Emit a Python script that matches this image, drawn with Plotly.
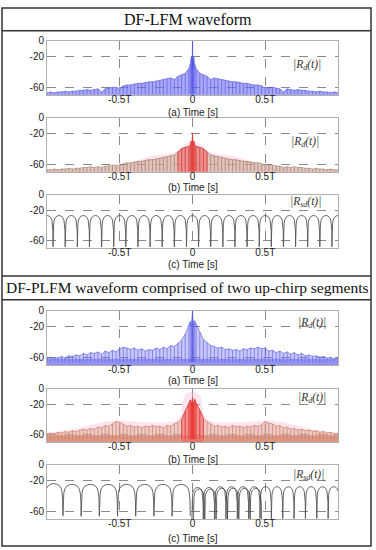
import plotly.graph_objects as go

W, H = 376, 550

# ---------------- data (time in units of T, magnitude in dB) ----------------
t_dense = [-1.0, -0.975, -0.95, -0.925, -0.9, -0.875, -0.85, -0.825, -0.8, -0.775,
           -0.75, -0.725, -0.7, -0.675, -0.65, -0.625, -0.6, -0.575, -0.55, -0.525,
           -0.5, -0.475, -0.45, -0.425, -0.4, -0.375, -0.35, -0.325, -0.3, -0.275,
           -0.25, -0.225, -0.2, -0.175, -0.15, -0.125, -0.1, -0.075, -0.05, -0.025,
           -0.015, -0.008, -0.003, 0.0, 0.003, 0.008, 0.015,
           0.025, 0.05, 0.075, 0.1, 0.125, 0.15, 0.175, 0.2, 0.225, 0.25,
           0.275, 0.3, 0.325, 0.35, 0.375, 0.4, 0.425, 0.45, 0.475, 0.5,
           0.525, 0.55, 0.575, 0.6, 0.625, 0.65, 0.675, 0.7, 0.725, 0.75,
           0.775, 0.8, 0.825, 0.85, 0.875, 0.9, 0.925, 0.95, 0.975, 1.0]

# (a) DF-LFM |R_d(t)|
peaks_a = [-67, -66, -67, -66, -66, -65, -66, -65, -65, -64,
           -64, -63, -64, -63, -62, -66, -62, -61, -60, -60,
           -62, -58, -57, -57, -56, -55, -55, -54, -53, -53,
           -52, -51, -50, -49, -48, -50, -46, -44, -42, -36,
           -30, -21, -38, 0, -38, -21, -30,
           -36, -42, -44, -46, -50, -48, -49, -50, -51, -52,
           -53, -53, -54, -55, -55, -56, -57, -57, -58, -62,
           -60, -60, -61, -62, -66, -62, -63, -64, -63, -64,
           -64, -65, -65, -66, -65, -66, -66, -67, -66, -67]
floor_a = -69

# (b) DF-LFM |R_d(t)| (second look)
peaks_b = [-67, -67, -66, -67, -66, -66, -65, -66, -65, -65,
           -64, -64, -63, -64, -63, -64, -62, -62, -61, -61,
           -62, -59, -58, -58, -57, -56, -56, -55, -54, -54,
           -53, -52, -51, -50, -49, -48, -44, -40, -38, -37,
           -35, -30, -36, -20, -36, -30, -35,
           -37, -38, -40, -44, -48, -49, -50, -51, -52, -53,
           -54, -54, -55, -56, -56, -57, -58, -58, -59, -62,
           -61, -61, -62, -62, -64, -63, -64, -63, -64, -64,
           -65, -65, -66, -65, -66, -66, -67, -66, -67, -67]
floor_b = -69
red_span_b = 0.1

# (a) DF-PLFM |R_d(t)|
peaks_d = [-61, -60, -62, -60, -59, -61, -58, -59, -57, -58,
           -55, -57, -54, -55, -53, -56, -52, -54, -51, -53,
           -49, -47, -48, -50, -48, -51, -49, -52, -50, -51,
           -48, -50, -47, -49, -45, -46, -42, -38, -30, -18,
           -14, -20, -12, 0, -12, -19, -13,
           -17, -28, -37, -41, -45, -46, -48, -47, -50, -49,
           -51, -50, -52, -49, -50, -48, -49, -47, -49, -48,
           -52, -51, -54, -52, -55, -53, -56, -54, -57, -55,
           -58, -57, -59, -58, -60, -59, -61, -60, -62, -61]
floor_d = -66
band_d = -62

# (b) DF-PLFM |R_d(t)|
peaks_e = [-59, -58, -59, -57, -58, -56, -57, -55, -56, -54,
           -53, -54, -52, -53, -50, -51, -48, -49, -46, -43,
           -44, -47, -49, -48, -50, -49, -51, -49, -50, -48,
           -50, -49, -51, -48, -49, -46, -44, -40, -30, -20,
           -15, -22, -18, -12, -18, -21, -14,
           -19, -28, -39, -43, -46, -49, -48, -50, -49, -51,
           -48, -50, -49, -51, -49, -50, -48, -49, -47, -43,
           -45, -46, -49, -48, -51, -50, -53, -52, -54, -53,
           -55, -54, -56, -55, -57, -56, -58, -57, -59, -58]
floor_e = -66
band_e = -61
red_span_e = 0.075

# arch (lobe) profile, read from the |R_sd| panels
arch_u = [-1.0, -0.97, -0.9, -0.8, -0.6, -0.3, 0.0, 0.3, 0.6, 0.8, 0.9, 0.97, 1.0]
arch_drop = [-41, -20, -11, -6, -2.5, -0.6, 0, -0.6, -2.5, -6, -11, -20, -41]

# (c) DF-LFM |R_sd(t)|
arch_c_centers = [-1.0, -0.917, -0.833, -0.75, -0.667, -0.583, -0.5, -0.417, -0.333,
                  -0.25, -0.167, -0.083, 0.0, 0.083, 0.167, 0.25, 0.333, 0.417,
                  0.5, 0.583, 0.667, 0.75, 0.833, 0.917, 1.0]
arch_c_peaks = [-27, -27, -27, -27, -27, -27, -27, -27, -27, -27, -27, -27, -27,
                -27, -27, -27, -27, -27, -27, -27, -27, -27, -27, -27, -27]
arch_c_half = 0.0417

# (c) DF-PLFM |R_sd(t)|
arch_f1_centers = [-0.953, -0.828, -0.703, -0.578, -0.453, -0.328, -0.203, -0.078]
arch_f1_peaks = [-24, -25, -25, -25, -25, -25, -25, -25]
arch_f1_half = 0.0625
arch_f2_centers = [0.035, 0.113, 0.191, 0.269, 0.347, 0.425, 0.503,
                   0.581, 0.659, 0.737, 0.815, 0.893, 0.971]
arch_f2_peaks = [-29, -29, -28, -28, -28, -28, -28, -28, -28, -28, -28, -28, -28]
arch_f2_half = 0.039
arch_f3_centers = [0.045, 0.123, 0.201, 0.279, 0.357, 0.435]
arch_f3_peaks = [-31, -31, -30, -30, -30, -30]
arch_f3_half = 0.039

# pink glow behind the (b) panels
haze_b_t = [-1.0, -0.5, -0.3, -0.12, -0.05, 0.0, 0.05, 0.12, 0.3, 0.5, 1.0]
haze_b_top = [-68, -62, -50, -44, -34, -30, -34, -44, -50, -62, -68]
haze_e_t = [-1.0, -0.8, -0.55, -0.3, -0.1, -0.05, 0.0, 0.05, 0.1, 0.3, 0.55, 0.8, 1.0]
haze_e_top = [-58, -52, -42, -44, -40, -8, -4, -8, -40, -44, -42, -52, -58]

x_ticks = [-0.5, 0, 0.5]
x_tick_text = ["-0.5T", "0", "0.5T"]
y_ticks = [0, -20, -60]
y_tick_text = ["0", "-20", "-60"]
y_range = [-70, 0]

# ---------------- layout helpers ----------------
PL, PR = 47, 338
panels_px = [(35, 90), (113, 168), (191, 245), (308, 363), (387, 441), (464, 519)]
xlabels = ["(a) Time [s]", "(b) Time [s]", "(c) Time [s]",
           "(a) Time [s]", "(b) Time [s]", "(c) Time [s]"]
xlabel_y = [108, 184, 261, 379, 458, 538]
rlabels = ["|R<sub>d</sub>(t)|", "|R<sub>d</sub>(t)|", "|R<sub>sd</sub>(t)|",
           "|R<sub>d</sub>(t)|", "|R<sub>d</sub>(t)|", "|R<sub>sd</sub>(t)|"]
rlabel_xy = [(307, 60), (305, 138), (305, 198), (312, 320), (312, 396), (308, 474)]

fig = go.Figure()


def axn(i):
    return ("x" if i == 1 else f"x{i}"), ("y" if i == 1 else f"y{i}")


def add_dense(i, peaks, floor, fillcol, linecol, stemcol, band=None, bandcol=None,
              red_span=None, redcol=None, redfill=None):
    xa, ya = axn(i)
    fig.add_trace(go.Scatter(x=[t_dense[0], t_dense[-1]], y=[y_range[0], y_range[0]],
                             mode="lines", line=dict(width=0, color=fillcol),
                             xaxis=xa, yaxis=ya, showlegend=False, hoverinfo="skip"))
    fig.add_trace(go.Scatter(x=t_dense, y=peaks, mode="lines", fill="tonexty",
                             fillcolor=fillcol, line=dict(width=0.6, color=linecol),
                             xaxis=xa, yaxis=ya, showlegend=False, hoverinfo="skip"))
    if band is not None:
        fig.add_trace(go.Scatter(x=[t_dense[0], t_dense[-1]], y=[y_range[0], y_range[0]],
                                 mode="lines", line=dict(width=0), xaxis=xa, yaxis=ya,
                                 showlegend=False, hoverinfo="skip"))
        fig.add_trace(go.Scatter(x=[t_dense[0], t_dense[-1]], y=[band, band], mode="lines",
                                 fill="tonexty", fillcolor=bandcol, line=dict(width=0),
                                 xaxis=xa, yaxis=ya, showlegend=False, hoverinfo="skip"))
    sx, sy = [], []
    for t, p in zip(t_dense, peaks):
        sx += [t, t, None]
        sy += [floor, p, None]
    fig.add_trace(go.Scatter(x=sx, y=sy, mode="lines", line=dict(width=0.8, color=stemcol),
                             xaxis=xa, yaxis=ya, showlegend=False, hoverinfo="skip"))
    if red_span is not None:
        rx = [t for t in t_dense if abs(t) <= red_span]
        ry = [p for t, p in zip(t_dense, peaks) if abs(t) <= red_span]
        fig.add_trace(go.Scatter(x=[rx[0], rx[-1]], y=[y_range[0], y_range[0]], mode="lines",
                                 line=dict(width=0), xaxis=xa, yaxis=ya,
                                 showlegend=False, hoverinfo="skip"))
        fig.add_trace(go.Scatter(x=rx, y=ry, mode="lines", fill="tonexty", fillcolor=redfill,
                                 line=dict(width=0.8, color=redcol), xaxis=xa, yaxis=ya,
                                 showlegend=False, hoverinfo="skip"))
        rsx, rsy = [], []
        for t, p in zip(rx, ry):
            rsx += [t, t, None]
            rsy += [floor, p, None]
        fig.add_trace(go.Scatter(x=rsx, y=rsy, mode="lines", line=dict(width=0.8, color=redcol),
                                 xaxis=xa, yaxis=ya, showlegend=False, hoverinfo="skip"))


def add_arches(i, centers, peaks, half, color, width=0.9):
    xa, ya = axn(i)
    xs, ys = [], []
    for c, p in zip(centers, peaks):
        for u, d in zip(arch_u, arch_drop):
            xs.append(c + u * half)
            ys.append(p + d)
        xs.append(None)
        ys.append(None)
    fig.add_trace(go.Scatter(x=xs, y=ys, mode="lines", line=dict(width=width, color=color),
                             xaxis=xa, yaxis=ya, showlegend=False, hoverinfo="skip"))


def add_haze(i, ht, htop, col):
    xa, ya = axn(i)
    fig.add_trace(go.Scatter(x=[ht[0], ht[-1]], y=[y_range[0], y_range[0]], mode="lines",
                             line=dict(width=0), xaxis=xa, yaxis=ya,
                             showlegend=False, hoverinfo="skip"))
    fig.add_trace(go.Scatter(x=ht, y=htop, mode="lines", fill="tonexty", fillcolor=col,
                             line=dict(width=0, shape="spline"), xaxis=xa, yaxis=ya,
                             showlegend=False, hoverinfo="skip"))


add_dense(1, peaks_a, floor_a, "rgba(115,115,240,0.62)", "rgba(70,70,225,0.9)",
          "rgba(80,80,230,0.75)")
add_haze(2, haze_b_t, haze_b_top, "rgba(255,170,210,0.35)")
add_dense(2, peaks_b, floor_b, "rgba(200,170,150,0.55)", "rgba(150,110,80,0.9)",
          "rgba(150,110,80,0.75)", red_span=red_span_b, redcol="rgba(235,60,60,0.9)",
          redfill="rgba(240,100,100,0.5)")
add_arches(3, arch_c_centers, arch_c_peaks, arch_c_half, "#555555")
add_dense(4, peaks_d, floor_d, "rgba(130,130,240,0.45)", "rgba(70,70,225,0.9)",
          "rgba(80,80,230,0.7)", band=band_d, bandcol="rgba(110,110,235,0.6)")
add_haze(5, haze_e_t, haze_e_top, "rgba(255,175,210,0.35)")
add_dense(5, peaks_e, floor_e, "rgba(220,170,150,0.45)", "rgba(185,110,80,0.9)",
          "rgba(190,110,80,0.7)", band=band_e, bandcol="rgba(210,125,95,0.65)",
          red_span=red_span_e, redcol="rgba(235,50,50,0.9)", redfill="rgba(245,90,90,0.5)")
add_arches(6, arch_f1_centers, arch_f1_peaks, arch_f1_half, "#555555")
add_arches(6, arch_f2_centers, arch_f2_peaks, arch_f2_half, "#555555")
add_arches(6, arch_f3_centers, arch_f3_peaks, arch_f3_half, "#444444", width=0.8)

layout = dict(width=W, height=H, margin=dict(l=0, r=0, t=0, b=0),
              paper_bgcolor="white", plot_bgcolor="white", showlegend=False)

axis_font = dict(family="Liberation Sans, Arial, sans-serif", size=10, color="#222")
annotations = []
for i, (top, bot) in enumerate(panels_px, start=1):
    xk = "xaxis" if i == 1 else f"xaxis{i}"
    yk = "yaxis" if i == 1 else f"yaxis{i}"
    ya = "y" if i == 1 else f"y{i}"
    xa = "x" if i == 1 else f"x{i}"
    layout[xk] = dict(domain=[PL / W, PR / W], range=[-1, 1], anchor=ya,
                      tickvals=x_ticks, ticktext=x_tick_text, ticks="",
                      ticklabelstandoff=-5,
                      showgrid=True, gridcolor="#8a8a8a", griddash="dash", gridwidth=1,
                      zeroline=False, showline=True, mirror=True, linecolor="#b0b0b0",
                      linewidth=1, tickfont=axis_font, fixedrange=True)
    layout[yk] = dict(domain=[1 - bot / H, 1 - top / H], range=y_range, anchor=xa,
                      tickvals=y_ticks, ticktext=y_tick_text, ticks="",
                      showgrid=True, gridcolor="#8a8a8a", griddash="dash", gridwidth=1,
                      zeroline=False, showline=True, mirror=True, linecolor="#b0b0b0",
                      linewidth=1, tickfont=axis_font, fixedrange=True)
    annotations.append(dict(text=xlabels[i - 1], xref="paper", yref="paper",
                            x=(PL + PR) / 2 / W, y=1 - xlabel_y[i - 1] / H,
                            xanchor="center", yanchor="middle", showarrow=False,
                            font=dict(family="Liberation Sans, Arial, sans-serif", size=10,
                                      color="#222")))
    rx, ry = rlabel_xy[i - 1]
    annotations.append(dict(text="<i>" + rlabels[i - 1] + "</i>", xref="paper", yref="paper",
                            x=rx / W, y=1 - ry / H, xanchor="center", yanchor="middle",
                            showarrow=False,
                            font=dict(family="Liberation Serif, serif", size=11.5, color="#333")))

annotations.append(dict(text="DF-LFM waveform", xref="paper", yref="paper",
                        x=188 / W, y=1 - 14 / H, xanchor="center", yanchor="middle",
                        showarrow=False,
                        font=dict(family="Liberation Serif, serif", size=16, color="#111")))
annotations.append(dict(text="DF-PLFM waveform comprised of two up-chirp segments",
                        xref="paper", yref="paper", x=187 / W, y=1 - 285 / H,
                        xanchor="center", yanchor="middle", showarrow=False,
                        font=dict(family="Liberation Serif, serif", size=15.5, color="#111")))
layout["annotations"] = annotations

line_style = dict(color="#333", width=1.5)
layout["shapes"] = [
    dict(type="rect", xref="paper", yref="paper", x0=2 / W, x1=371 / W,
         y0=1 - 546 / H, y1=1 - 2 / H, line=line_style),
    dict(type="line", xref="paper", yref="paper", x0=2 / W, x1=371 / W,
         y0=1 - 25 / H, y1=1 - 25 / H, line=line_style),
    dict(type="line", xref="paper", yref="paper", x0=2 / W, x1=371 / W,
         y0=1 - 273 / H, y1=1 - 273 / H, line=line_style),
    dict(type="line", xref="paper", yref="paper", x0=2 / W, x1=371 / W,
         y0=1 - 297 / H, y1=1 - 297 / H, line=line_style),
]

fig.update_layout(**layout)
fig.write_html("out.html", config={"displayModeBar": False},
               post_script="document.body.style.margin='0';document.body.style.overflow='hidden';")
